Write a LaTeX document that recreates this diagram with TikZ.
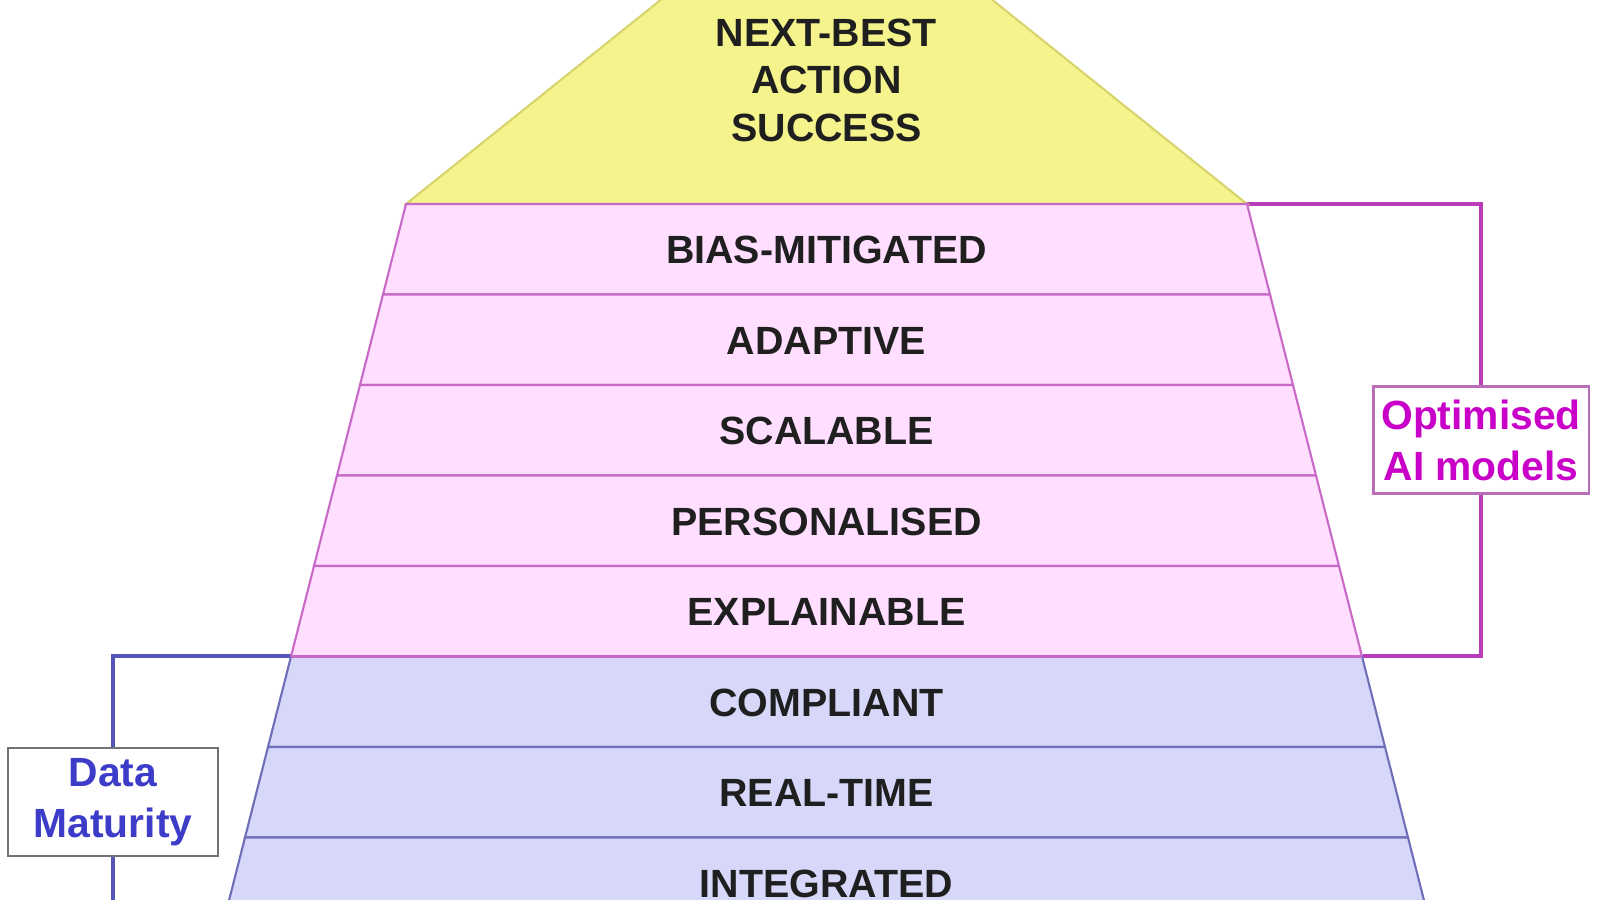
\documentclass[tikz,border=0pt]{standalone}
\usepackage{fontspec}
\setmainfont{Liberation Sans}
\usetikzlibrary{positioning}

\definecolor{spitzegelb}{RGB}{245,243,140}
\definecolor{spitzelinie}{RGB}{215,212,110}
\definecolor{rosa}{RGB}{255,222,255}
\definecolor{rosalinie}{RGB}{200,105,200}
\definecolor{blau}{RGB}{215,215,250}
\definecolor{blaulinie}{RGB}{110,110,185}
\definecolor{klammerrosa}{RGB}{185,60,185}
\definecolor{klammerblau}{RGB}{85,85,185}
\definecolor{aitext}{RGB}{200,0,200}
\definecolor{dmtext}{RGB}{60,60,200}

\begin{document}
\begin{tikzpicture}[x=0.01cm, y=-0.01cm,
    schicht/.style={font=\bfseries\fontsize{11.2}{13.5}\selectfont, text=black!88, align=center},
    kasten/.style={draw, fill=white, line width=0.6pt, align=center,
        font=\bfseries\fontsize{11.6}{14.5}\selectfont, inner sep=0pt},
    klammer/.style={line width=1pt}]
    \useasboundingbox (0,0) rectangle (1600,900);
    \clip (0,0) rectangle (1600,900);

    % Klammer rechts
    \coordinate (ai oben) at (1247,204);
    \coordinate (ai unten) at (1363,656);
    \node[kasten, draw=rosalinie!80!gray, text=aitext, minimum width=2.15cm, minimum height=1.07cm]
        (ai) at (1481,440) {Optimised\\AI models};
    \draw[klammer, klammerrosa] (ai oben) -| (ai.north);
    \draw[klammer, klammerrosa] (ai.south) |- (ai unten);

    % Klammer links
    \coordinate (dm oben) at (291,656);
    \coordinate (dm unten) at (113,930);
    \node[kasten, draw=black!55, text=dmtext, minimum width=2.09cm, minimum height=1.08cm]
        (dm) at (113,802) {Data\\Maturity};
    \draw[klammer, klammerblau] (dm oben) -| (dm.north);
    \draw[klammer, klammerblau] (dm.south) -- (dm unten);

    % Spitze
    \filldraw[fill=spitzegelb, draw=spitzelinie, line width=0.6pt]
        (826.5,-133) -- (406,204) -- (1247,204) -- cycle;
    \node[schicht] (spitze) at (826.5,80) {NEXT-BEST\\ACTION\\SUCCESS};

    % Schichten KI-Modelle
    \foreach \i/\txt in {0/BIAS-MITIGATED, 1/ADAPTIVE, 2/SCALABLE, 3/PERSONALISED, 4/EXPLAINABLE} {
        \pgfmathsetmacro\yo{204+90.5*\i}
        \pgfmathsetmacro\yu{\yo+90.5}
        \pgfmathsetmacro\bo{420.5+23*\i}
        \pgfmathsetmacro\bu{\bo+23}
        \filldraw[fill=rosa, draw=rosalinie, line width=0.6pt]
            (826.5-\bo,\yo) -- (826.5+\bo,\yo) -- (826.5+\bu,\yu) -- (826.5-\bu,\yu) -- cycle;
        \node[schicht] (s\i) at (826.5,\yo+46) {\txt};
    }

    % Schichten Daten
    \foreach \i/\txt in {5/COMPLIANT, 6/REAL-TIME, 7/INTEGRATED} {
        \pgfmathsetmacro\yo{204+90.5*\i}
        \pgfmathsetmacro\yu{\yo+90.5}
        \pgfmathsetmacro\bo{420.5+23*\i}
        \pgfmathsetmacro\bu{\bo+23}
        \filldraw[fill=blau, draw=blaulinie, line width=0.6pt]
            (826.5-\bo,\yo) -- (826.5+\bo,\yo) -- (826.5+\bu,\yu) -- (826.5-\bu,\yu) -- cycle;
        \node[schicht] (s\i) at (826.5,\yo+46) {\txt};
    }
    \draw[rosalinie, line width=0.6pt] (826.5-535.5,656.5) -- (826.5+535.5,656.5);
\end{tikzpicture}
\end{document}
